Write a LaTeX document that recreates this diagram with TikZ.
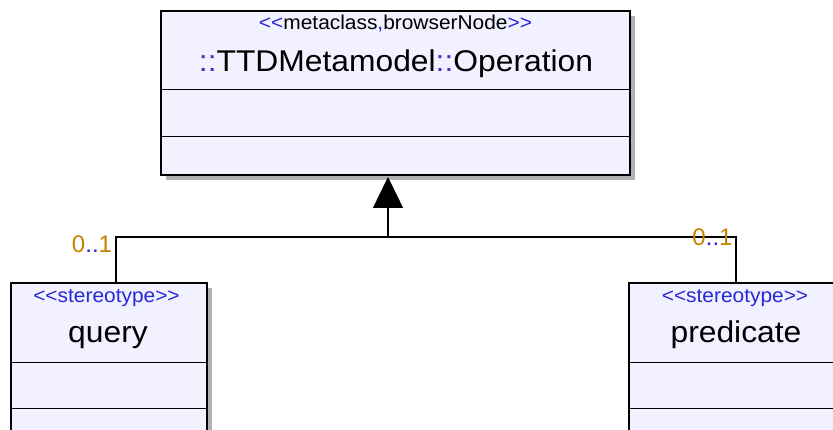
\documentclass[tikz,border=0pt]{standalone}
\usepackage{fontspec}
\usepackage{graphicx}
\setmainfont{Liberation Sans}
\usetikzlibrary{arrows.meta}
\definecolor{boxfill}{RGB}{241,241,255}
\definecolor{stereo}{RGB}{40,40,215}
\definecolor{sep}{RGB}{70,50,200}
\definecolor{mult}{RGB}{200,130,0}
\newcommand\gopen{<\kern0pt<}
\newcommand\gclose{>\kern0pt>}
\newcommand\widestereo[1]{\scalebox{1.045}[1]{#1}}
\newcommand\widename[1]{\scalebox{1.06}[1]{#1}}
\tikzset{
  umlbox/.style={draw=black, line width=1.4pt, fill=boxfill, rectangle, inner sep=0pt},
  boxshadow/.style={fill=black!30},
  stereotxt/.style={font=\fontsize{20}{24}\selectfont, anchor=base, inner sep=0pt},
  nametxt/.style={font=\fontsize{30}{36}\selectfont, anchor=base, inner sep=0pt},
  multtxt/.style={font=\fontsize{24}{28}\selectfont, anchor=base, inner sep=0pt, text=mult},
  link/.style={line width=1.4pt},
  compline/.style={line width=1.4pt},
}
\begin{document}
\begin{tikzpicture}[x=1pt,y=-1pt]
\useasboundingbox (0,0) rectangle (833,430);
\clip (0,0) rectangle (833,430);

% drop shadows
\fill[boxshadow] (166,16) rectangle (635,180);
\fill[boxshadow] (16,288) rectangle (212,470);
\fill[boxshadow] (634,288) rectangle (846,470);

% class boxes
\node[umlbox, minimum width=469pt, minimum height=164pt] (op) at (395.5,93) {};
\node[umlbox, minimum width=196pt, minimum height=180pt] (query) at (109,373) {};
\node[umlbox, minimum width=212pt, minimum height=180pt] (pred) at (735,373) {};

% compartments
\draw[compline] ([yshift=-79pt]op.north west) -- ([yshift=-79pt]op.north east);
\draw[compline] ([yshift=-126pt]op.north west) -- ([yshift=-126pt]op.north east);
\draw[compline] ([yshift=-80pt]query.north west) -- ([yshift=-80pt]query.north east);
\draw[compline] ([yshift=-126pt]query.north west) -- ([yshift=-126pt]query.north east);
\draw[compline] ([yshift=-80pt]pred.north west) -- ([yshift=-80pt]pred.north east);
\draw[compline] ([yshift=-126pt]pred.north west) -- ([yshift=-126pt]pred.north east);

% labels
\node[stereotxt] (opst) at (395.5,30) {\widestereo{\textcolor{stereo}{\gopen}metaclass\textcolor{stereo}{,}browserNode\textcolor{stereo}{\gclose}}};
\node[nametxt] (opname) at (396,72) {\widename{\textcolor{sep}{::}TTDMetamodel\textcolor{sep}{::}Operation}};
\node[stereotxt, text=stereo] (qst) at (106.5,303) {\widestereo{\gopen stereotype\gclose}};
\node[nametxt] (qname) at (108,343) {\widename{query}};
\node[stereotxt, text=stereo] (pst) at (735,303) {\widestereo{\gopen stereotype\gclose}};
\node[nametxt] (pname) at (736,343) {\widename{predicate}};

% generalization
\coordinate (j) at (388,237);
\coordinate (tip) at (388,177);
\draw[link] ([xshift=7pt]query.north) |- (j) -| ([xshift=1pt]pred.north);
\draw[link, -{Triangle[length=31pt,width=30pt]}] (j) -- (tip);

% multiplicities
\node[multtxt] (m1) at (92,253) {0\textcolor{stereo}{..}1};
\node[multtxt] (m2) at (712.5,246) {0\textcolor{stereo}{..}1};
\end{tikzpicture}
\end{document}
